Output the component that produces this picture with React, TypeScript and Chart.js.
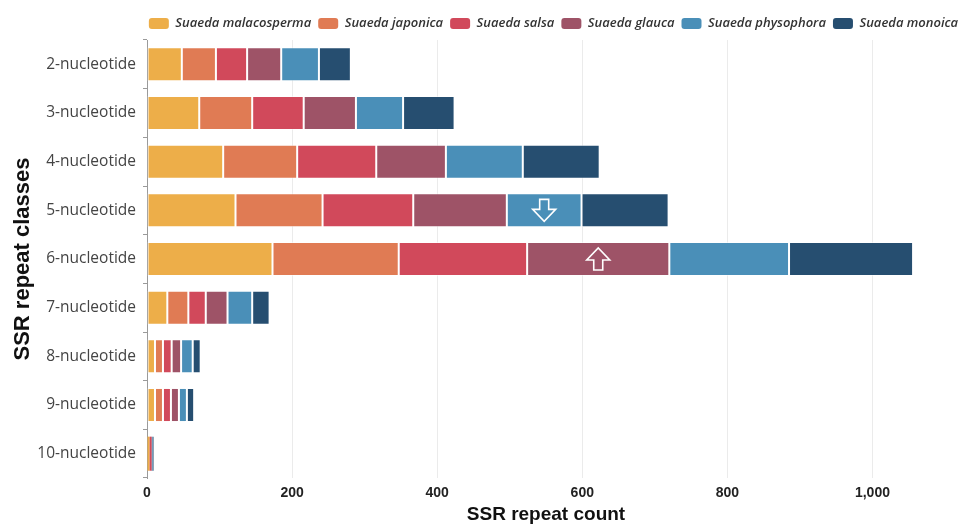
import React, { useEffect, useLayoutEffect, useRef } from 'react';
import { Chart, registerables } from 'chart.js';

Chart.register(...registerables);

// Repeat-unit classes (y axis)
const categories = [
  '2-nucleotide',
  '3-nucleotide',
  '4-nucleotide',
  '5-nucleotide',
  '6-nucleotide',
  '7-nucleotide',
  '8-nucleotide',
  '9-nucleotide',
  '10-nucleotide',
];

const speciesNames = [
  'Suaeda malacosperma',
  'Suaeda japonica',
  'Suaeda salsa',
  'Suaeda glauca',
  'Suaeda physophora',
  'Suaeda monoica',
];

const speciesColors = ['#EDAE49', '#E07B54', '#D1495B', '#9E5367', '#4A8FB8', '#264E70'];

// SSR counts per species, one value per repeat class
const malacosperma = [48, 72, 105, 122, 173, 28, 11, 11, 3];
const japonica = [47, 73, 102, 120, 174, 29, 11, 11, 1];
const salsa = [43, 71, 109, 125, 177, 24, 12, 11, 2];
const glauca = [47, 72, 96, 129, 196, 30, 13, 11, 1];
const physophora = [52, 65, 106, 103, 165, 34, 16, 11, 1];
const monoica = [44, 71, 106, 120, 171, 24, 11, 10, 1];

const seriesValues = [malacosperma, japonica, salsa, glauca, physophora, monoica];

const xTicks = [0, 200, 400, 600, 800, 1000];
const xMax = 1100;

// Hollow arrows marking particular segments (series index into speciesNames)
const arrowCategories = ['5-nucleotide', '6-nucleotide'];
const arrowSeries = [4, 3];
const arrowDirections = ['down', 'up'];

const arrowPlugin = {
  id: 'segmentArrows',
  afterDatasetsDraw(chart: any) {
    const ctx = chart.ctx;
    ctx.save();
    ctx.strokeStyle = '#ffffff';
    ctx.lineWidth = 1.6;
    ctx.lineJoin = 'miter';
    arrowCategories.forEach((cat, i) => {
      const idx = categories.indexOf(cat);
      const meta = chart.getDatasetMeta(arrowSeries[i]);
      const el = meta.data[idx];
      if (!el) return;
      const cx = (el.x + el.base) / 2;
      const cy = el.y;
      const halfW = 11.5;
      const halfH = 11;
      const stem = 4.5;
      const dir = arrowDirections[i] === 'down' ? 1 : -1;
      const tailY = cy - dir * halfH;
      const neckY = cy - dir * 1;
      const tipY = cy + dir * halfH;
      ctx.beginPath();
      ctx.moveTo(cx - stem, tailY);
      ctx.lineTo(cx + stem, tailY);
      ctx.lineTo(cx + stem, neckY);
      ctx.lineTo(cx + halfW, neckY);
      ctx.lineTo(cx, tipY);
      ctx.lineTo(cx - halfW, neckY);
      ctx.lineTo(cx - stem, neckY);
      ctx.closePath();
      ctx.stroke();
    });
    ctx.restore();
  },
};

// Moves the legend row to the right of the canvas centre
const legendShiftPlugin = {
  id: 'legendShift',
  afterLayout(chart: any) {
    const legend = chart.legend;
    if (!legend) return;
    const shift = 77;
    legend.left += shift;
    legend.right += shift;
  },
};

export default function App() {
  const canvasRef = useRef<HTMLCanvasElement | null>(null);

  // the page is exactly one chart tall: drop the body margin and pad the wrapper instead
  useLayoutEffect(() => {
    document.body.style.margin = '0';
  }, []);

  useEffect(() => {
    if (!canvasRef.current) return;
    const datasets = speciesNames.map((name, i) => ({
      label: name,
      data: seriesValues[i],
      backgroundColor: speciesColors[i],
      borderColor: 'rgba(255,255,255,0.5)',
      // thin separators only where a segment is wide enough to carry one
      borderWidth: (c: any) => (c.raw >= 5 ? 1 : 0),
      borderSkipped: false,
      categoryPercentage: 0.7,
      barPercentage: 1.0,
    }));

    const chart = new Chart(canvasRef.current, {
      type: 'bar',
      data: { labels: categories, datasets },
      plugins: [arrowPlugin, legendShiftPlugin],
      options: {
        indexAxis: 'y',
        animation: false,
        responsive: true,
        maintainAspectRatio: false,
        layout: { padding: { top: 2, right: 15, bottom: 0, left: 0 } },
        plugins: {
          tooltip: { enabled: false },
          legend: {
            position: 'top',
            align: 'center',
            labels: {
              boxWidth: 20,
              boxHeight: 11,
              padding: 7,
              useBorderRadius: true,
              borderRadius: 3,
              color: '#333333',
              font: { family: "'Open Sans', sans-serif", size: 13, style: 'italic', weight: '600' },
              generateLabels: (c: any) =>
                Chart.defaults.plugins.legend.labels
                  .generateLabels(c)
                  .map((item: any) => ({ ...item, strokeStyle: item.fillStyle, lineWidth: 0 })),
            },
          },
        },
        scales: {
          x: {
            stacked: true,
            min: 0,
            max: xMax,
            afterBuildTicks: (scale: any) => {
              scale.ticks = xTicks.map((v) => ({ value: v }));
            },
            afterFit: (scale: any) => {
              scale.height = 49;
            },
            grid: { color: '#ebebeb', drawTicks: false },
            border: { display: false },
            ticks: {
              padding: 7,
              color: '#222222',
              font: { family: "'Liberation Sans', Arial, sans-serif", size: 14, weight: 'bold' },
            },
            title: {
              display: true,
              text: 'SSR repeat count',
              color: '#111111',
              font: { family: "'Liberation Sans', Arial, sans-serif", size: 19, weight: 'bold' },
              padding: { top: 0, bottom: 1 },
            },
          },
          y: {
            stacked: true,
            afterFit: (scale: any) => {
              scale.width = 139;
            },
            grid: { drawOnChartArea: false, drawTicks: true, tickLength: 4, color: '#9a9a9a' },
            border: { display: true, color: '#9a9a9a' },
            ticks: {
              padding: 7,
              color: '#444444',
              font: { family: "'Open Sans', sans-serif", size: 15.5 },
            },
            title: {
              display: true,
              text: 'SSR repeat classes',
              color: '#111111',
              font: { family: "'Liberation Sans', Arial, sans-serif", size: 22, weight: 'bold' },
              padding: { top: 2, bottom: 0 },
            },
          },
        },
      } as any,
    });

    return () => {
      chart.destroy();
    };
  }, []);

  return (
    <div style={{ padding: '8px 8px 0 8px' }}>
      <div style={{ width: 952, height: 519, position: 'relative' }}>
        <canvas ref={canvasRef} />
      </div>
    </div>
  );
}
